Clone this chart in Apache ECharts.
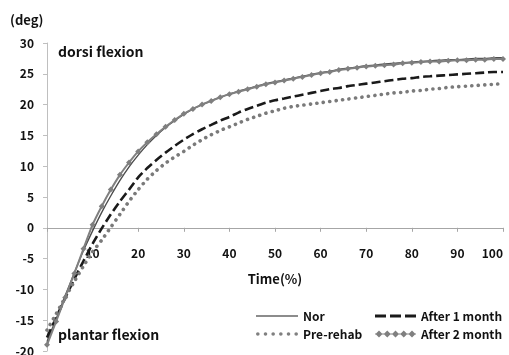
<!DOCTYPE html>
<html>
<head>
<meta charset="utf-8">
<script src="https://cdn.jsdelivr.net/npm/echarts@6/dist/echarts.min.js"></script>
<style>
html,body{margin:0;padding:0;background:#fff;}
#chart{width:509px;height:355px;}
</style>
</head>
<body>
<div id="chart"></div>
<script>
// Time (%) sample positions
var xs = [0,2,4,6,8,10,12,14,16,18,20,22,24,26,28,30,32,34,36,38,40,42,44,46,48,50,52,54,56,58,60,62,64,66,68,70,72,74,76,78,80,82,84,86,88,90,92,94,96,98,100];
var seriesNames = ['Nor', 'After 1 month', 'Pre-rehab', 'After 2 month'];
var nor = [-18.5,-14.8,-11.0,-7.3,-3.7,-0.5,2.5,5.2,7.7,9.9,11.8,13.5,15.0,16.3,17.4,18.4,19.3,20.0,20.6,21.2,21.7,22.2,22.6,23.0,23.4,23.7,24.0,24.3,24.6,24.9,25.2,25.4,25.7,25.9,26.1,26.3,26.4,26.6,26.7,26.8,26.9,27.0,27.1,27.2,27.3,27.3,27.4,27.5,27.5,27.6,27.6];
var after1 = [-17.8,-14.6,-11.4,-8.3,-5.4,-2.6,-0.1,2.2,4.3,6.2,8.2,9.7,11.0,12.2,13.3,14.3,15.2,16.0,16.7,17.4,18.0,18.7,19.3,19.8,20.3,20.7,21.0,21.3,21.6,21.9,22.2,22.5,22.7,23.0,23.2,23.4,23.6,23.8,24.0,24.2,24.3,24.5,24.6,24.7,24.8,24.9,25.0,25.1,25.2,25.3,25.3];
var preRehab = [-16.6,-14.0,-11.3,-8.7,-6.2,-3.9,-2.0,0.1,2.2,4.3,6.2,7.9,9.3,10.5,11.5,12.4,13.4,14.3,15.1,15.8,16.4,17.0,17.6,18.1,18.6,19.0,19.4,19.7,19.9,20.1,20.3,20.5,20.7,20.9,21.1,21.3,21.5,21.7,21.9,22.0,22.2,22.3,22.5,22.6,22.8,22.9,23.0,23.1,23.2,23.3,23.4];
var after2 = [-19.0,-15.2,-11.3,-7.4,-3.4,0.5,3.5,6.2,8.6,10.6,12.4,13.9,15.2,16.4,17.5,18.5,19.3,20.0,20.6,21.2,21.7,22.1,22.5,22.9,23.3,23.6,23.9,24.2,24.5,24.8,25.1,25.3,25.6,25.8,26.0,26.2,26.3,26.4,26.5,26.7,26.8,26.9,27.0,27.0,27.1,27.2,27.2,27.3,27.3,27.4,27.4];
var xTicks = [10,20,30,40,50,60,70,80,90,100];
var yTicks = [-20,-15,-10,-5,0,5,10,15,20,25,30];

function pairs(ys){ return xs.map(function(x,i){ return [x, ys[i]]; }); }

var FONT = "'Noto Sans CJK KR', 'Noto Sans', sans-serif";

// legend icon paths
var iconNor = 'path://M0 4 L42 4 L42 6.2 L0 6.2 Z';
var iconDash = 'path://M0 3.5 L11 3.5 L11 6.5 L0 6.5 Z M15 3.5 L26 3.5 L26 6.5 L15 6.5 Z M30 3.5 L41 3.5 L41 6.5 L30 6.5 Z';
var dots = '';
for (var k = 0; k < 6; k++) {
  var cx = 2 + k * 7.6, r = 1.8;
  dots += 'M' + (cx - r) + ' 5 A' + r + ' ' + r + ' 0 1 0 ' + (cx + r) + ' 5 A' + r + ' ' + r + ' 0 1 0 ' + (cx - r) + ' 5 Z ';
}
var iconDot = 'path://' + dots;
var dia = 'M0 4.4 L41 4.4 L41 5.6 L0 5.6 Z ';
for (var j = 0; j < 5; j++) {
  var dx = 4 + j * 8.25;
  dia += 'M' + (dx - 3.5) + ' 5 L' + dx + ' 1.5 L' + (dx + 3.5) + ' 5 L' + dx + ' 8.5 Z ';
}
var iconDia = 'path://' + dia;

var labelStyle = {fontFamily: FONT, fontWeight: 'bold', fontSize: 12, color: '#111'};
var legendText = {fontFamily: FONT, fontWeight: 'bold', fontSize: 12, color: '#111'};

var chart = echarts.init(document.getElementById('chart'), null, {renderer: 'canvas'});
var option = {
  animation: false,
  backgroundColor: '#ffffff',
  textStyle: {fontFamily: FONT},
  grid: [
    {left: 47, right: 6, top: 43, bottom: 4, containLabel: false, outerBoundsMode: 'none'},
    // upper half (30 .. 0) used only to place the time labels under the zero line
    {left: 47, right: 6, top: 43, bottom: 127, containLabel: false, outerBoundsMode: 'none'}
  ],
  xAxis: [
    {
      gridIndex: 0, type: 'value', min: 0, max: 100, interval: 10,
      axisLine: {onZero: true, lineStyle: {color: '#a6a6a6', width: 1}},
      axisTick: {show: true, length: 4, lineStyle: {color: '#a6a6a6'}},
      axisLabel: {show: false},
      splitLine: {show: false}
    },
    {
      gridIndex: 1, type: 'value', min: 0, max: 100, interval: 10, position: 'bottom',
      name: 'Time(%)', nameLocation: 'middle', nameGap: 45,
      nameTextStyle: {fontFamily: FONT, fontWeight: 'bold', fontSize: 13, color: '#111'},
      axisLine: {show: false, onZero: false},
      axisTick: {show: false},
      axisLabel: Object.assign({margin: 19, alignMaxLabel: 'right', formatter: function(v){ return xTicks.indexOf(v) >= 0 ? String(v) : ''; }}, labelStyle),
      splitLine: {show: false}
    }
  ],
  yAxis: [
    {
      gridIndex: 0, type: 'value', min: -20, max: 30, interval: 5,
      axisLine: {show: true, lineStyle: {color: '#bfbfbf', width: 1}},
      axisTick: {show: true, length: 4, lineStyle: {color: '#bfbfbf'}},
      axisLabel: Object.assign({margin: 13, formatter: function(v){ return yTicks.indexOf(v) >= 0 ? String(v) : ''; }}, labelStyle),
      splitLine: {show: false}
    },
    {
      gridIndex: 1, type: 'value', min: 0, max: 30, show: false
    }
  ],
  legend: [
    {
      orient: 'vertical', left: 251, top: 305, itemWidth: 42, itemHeight: 10, itemGap: 6,
      textStyle: legendText,
      data: [
        {name: 'Nor', icon: iconNor, itemStyle: {color: '#8c8c8c'}},
        {name: 'Pre-rehab', icon: iconDot, itemStyle: {color: '#808080'}}
      ]
    },
    {
      orient: 'vertical', left: 370, top: 305, itemWidth: 41, itemHeight: 10, itemGap: 6,
      textStyle: legendText,
      data: [
        {name: 'After 1 month', icon: iconDash, itemStyle: {color: '#1a1a1a'}},
        {name: 'After 2 month', icon: iconDia, itemStyle: {color: '#808080'}}
      ]
    }
  ],
  graphic: [
    {type: 'text', left: 10, top: 14, style: {text: '(deg)', font: 'bold 13px ' + FONT, fill: '#111'}},
    {type: 'text', left: 58, top: 45, style: {text: 'dorsi flexion', font: 'bold 14px ' + FONT, fill: '#111'}},
    {type: 'text', left: 58, top: 328, style: {text: 'plantar flexion', font: 'bold 14px ' + FONT, fill: '#111'}}
  ],
  series: [
    {
      name: seriesNames[0], type: 'line', data: pairs(nor), symbol: 'none', smooth: 0.2,
      lineStyle: {color: '#4d4d4d', width: 1.4},
      itemStyle: {color: '#8c8c8c'}, z: 2
    },
    {
      name: seriesNames[1], type: 'line', data: pairs(after1), symbol: 'none', smooth: 0.2,
      lineStyle: {color: '#1a1a1a', width: 2.6, type: [9, 4]},
      itemStyle: {color: '#1a1a1a'}, z: 3
    },
    {
      name: seriesNames[2], type: 'line', data: pairs(preRehab), symbol: 'none', smooth: 0.2,
      lineStyle: {color: '#7a7a7a', width: 3.6, type: [0.1, 6.4], cap: 'round'},
      itemStyle: {color: '#808080'}, z: 3
    },
    {
      name: seriesNames[3], type: 'line', data: pairs(after2), smooth: 0.2,
      symbol: 'diamond', symbolSize: 6, showSymbol: true,
      lineStyle: {color: '#808080', width: 2},
      itemStyle: {color: '#7f7f7f'}, z: 4
    }
  ]
};
chart.setOption(option);
</script>
</body>
</html>
